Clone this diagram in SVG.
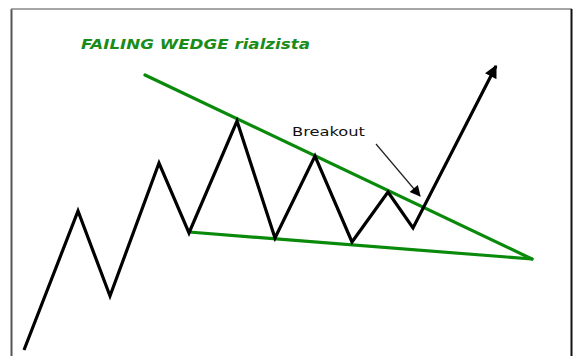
<svg xmlns="http://www.w3.org/2000/svg" width="573" height="356" viewBox="0 0 573 356">
<style>
.zig{fill:none;stroke:#000;stroke-width:3.2;stroke-linejoin:miter;stroke-linecap:butt}
.wedge{fill:none;stroke:#0a8a0a;stroke-width:3.2;stroke-linecap:round}
.thin{fill:none;stroke:#222;stroke-width:1.2}
.title{font-family:"DejaVu Sans",Verdana,sans-serif;font-weight:bold;font-style:italic;font-size:14.5px;fill:#1a8c1a}
.lbl{font-family:"DejaVu Sans",Verdana,sans-serif;font-size:13px;fill:#111}
</style>
<defs>
<marker id="big" viewBox="0 0 10 10" refX="9" refY="5" markerWidth="4.2" markerHeight="4" orient="auto" markerUnits="strokeWidth">
<path d="M0,0 L10,5 L0,10 z" fill="#000"/>
</marker>
<marker id="small" viewBox="0 0 10 10" refX="9" refY="5" markerWidth="10" markerHeight="9" orient="auto" markerUnits="strokeWidth">
<path d="M0,0 L10,5 L0,10 z" fill="#000"/>
</marker>
</defs>
<rect width="573" height="356" fill="#fff"/>
<g id="frame">
<line x1="11.5" y1="9" x2="11.5" y2="356" stroke="#555" stroke-width="2"/>
<line x1="11" y1="9" x2="572" y2="9" stroke="#888" stroke-width="1.5"/>
<line x1="571.5" y1="9" x2="571.5" y2="356" stroke="#111" stroke-width="2"/>
</g>
<g id="title"><text class="title" x="81" y="49" textLength="229" lengthAdjust="spacingAndGlyphs">FAILING WEDGE rialzista</text></g>
<g id="wedge">
<line class="wedge" x1="145" y1="75" x2="532" y2="259"/>
<line class="wedge" x1="189" y1="232" x2="532" y2="259"/>
</g>
<g id="connectors">
<polyline class="zig" points="24,350 78,211 110,296 159,163 189,233 237,121 275,238 315,156 352,242 388,192 413,228 496,66" marker-end="url(#big)"/>
<line class="thin" x1="376" y1="144" x2="420" y2="196" marker-end="url(#small)"/>
</g>
<g id="breakout"><text class="lbl" x="292" y="136" textLength="73" lengthAdjust="spacingAndGlyphs">Breakout</text></g>
</svg>
